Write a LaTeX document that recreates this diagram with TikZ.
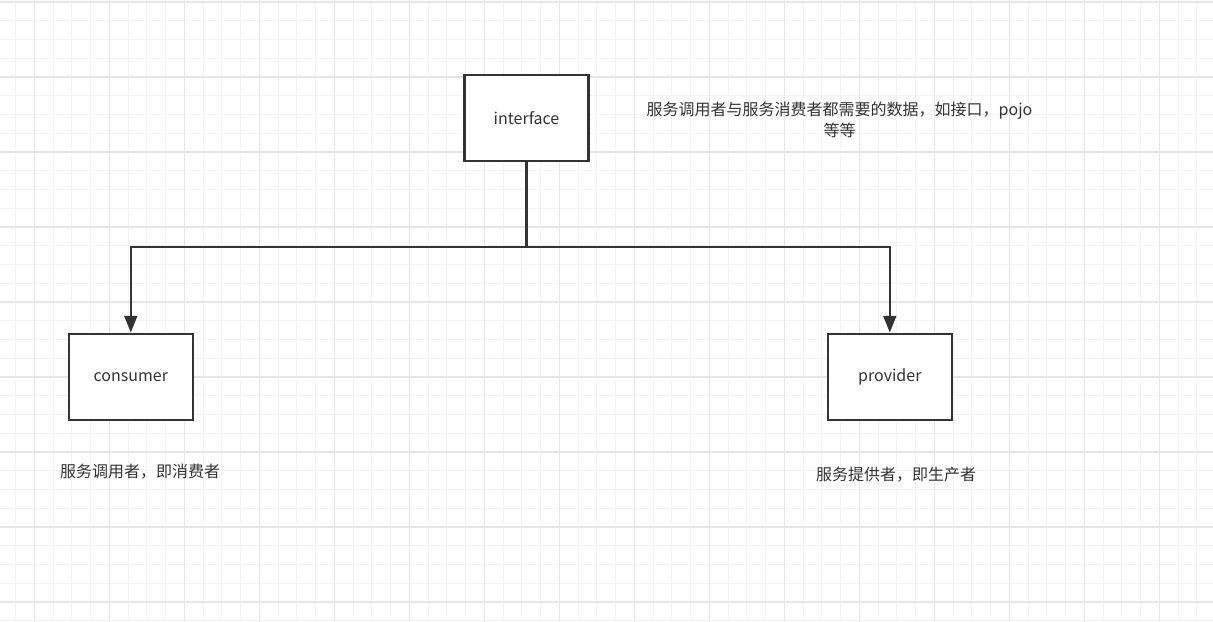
\documentclass[tikz,border=0pt]{standalone}
\usepackage{fontspec}
\setmainfont{Noto Sans CJK SC}
\usetikzlibrary{arrows.meta}
\definecolor{inkgray}{HTML}{333333}
\definecolor{gridminor}{HTML}{F3F3F3}
\definecolor{gridmajor}{HTML}{E6E6E6}

\begin{document}
\begin{tikzpicture}[x=0.75pt, y=-0.75pt,
      minorline/.style={draw=gridminor, line width=0.75pt},
      majorline/.style={draw=gridmajor, line width=0.9pt},
      modbox/.style={draw=inkgray, fill=white, line width=1.6pt, minimum width=93pt, minimum height=65pt, inner sep=0pt, text=inkgray, font=\fontsize{12pt}{14pt}\selectfont},
      notestyle/.style={text=inkgray, align=center, font=\fontsize{12pt}{15.75pt}\selectfont},
      linkline/.style={draw=inkgray, line width=1.8pt},
      arrowline/.style={linkline, -{Triangle[length=12.5pt, width=9.5pt]}}]

      \useasboundingbox[fill=white] (0,0) rectangle (1213,621);

      % Background grid
      \foreach \i in {-1,...,62}
        \draw[minorline] ({34.3+18.75*\i},0) -- ({34.3+18.75*\i},621);
      \foreach \j in {0,...,33}
        \draw[minorline] (0,{2+18.75*\j}) -- (1213,{2+18.75*\j});
      \foreach \i in {0,4,...,60}
        \draw[majorline] ({34.3+18.75*\i},0) -- ({34.3+18.75*\i},621);
      \foreach \j in {0,4,...,32}
        \draw[majorline] (0,{2+18.75*\j}) -- (1213,{2+18.75*\j});

      % --- Modules ---
      \node[modbox] (iface) at (526.5,118) {interface};
      \node[modbox] (consumer) at (130.8,377) {consumer};
      \node[modbox] (provider) at (889.8,377) {provider};

      % --- Connectors ---
      \coordinate (split) at (526.5,247);
      \draw[linkline] (iface.south) -- (split);
      \draw[arrowline] (split) -| (consumer.north);
      \draw[arrowline] (split) -| (provider.north);

      % --- Notes ---
      \node[notestyle] (ifacenote) at (839.5,120) {服务调用者与服务消费者都需要的数据，如接口，pojo\\等等};
      \node[notestyle] (consumernote) at (140,472) {服务调用者，即消费者};
      \node[notestyle] (providernote) at (896,475) {服务提供者，即生产者};

    \end{tikzpicture}
\end{document}
